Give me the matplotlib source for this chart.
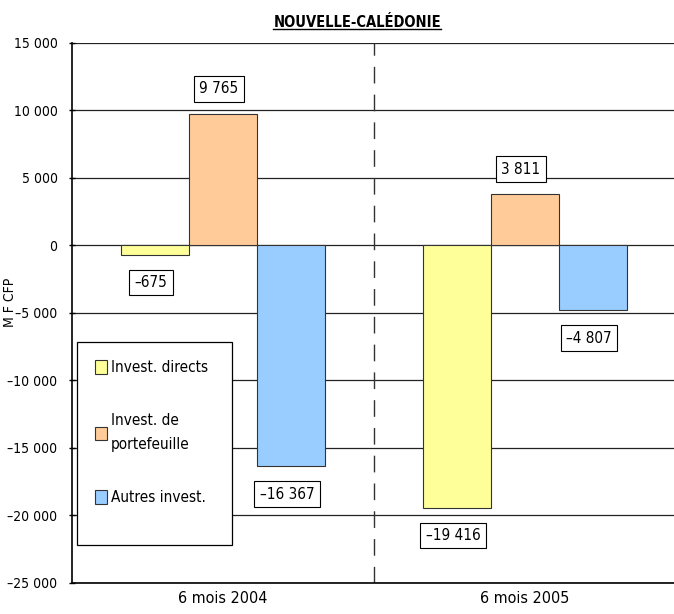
import numpy as np
import matplotlib.pyplot as plt
from matplotlib.lines import Line2D
from matplotlib.patches import Rectangle
from matplotlib.ticker import FuncFormatter

plt.rcParams['font.family'] = ['DejaVu Sans']
plt.rcParams['font.stretch'] = 'condensed'

periods = ['6 mois 2004', '6 mois 2005']
series = ['Invest. directs', 'Invest. de\nportefeuille', 'Autres invest.']
directs = [-675, -19416]
portefeuille = [9765, 3811]
autres = [-16367, -4807]
colors = ['#FFFF99', '#FFCC99', '#99CCFF']

fig = plt.figure(figsize=(6.74, 6.14), dpi=100)
ax = fig.add_axes([0.107, 0.0505, 0.896, 0.8795])

x = np.arange(len(periods))
w = 0.225
for i, (vals, c, lab) in enumerate(zip([directs, portefeuille, autres], colors, series)):
    pos = x + (i - 1) * w
    ax.bar(pos, vals, w, color=c, edgecolor='#333333', linewidth=0.8, label=lab, zorder=3)
    for px, v in zip(pos, vals):
        off = 18 if v > 0 else -20
        txt = f'{abs(v):,}'.replace(',', ' ')
        if v < 0:
            txt = '\u2013' + txt
        ax.annotate(txt, (px, v), xytext=(-3, off), textcoords='offset points',
                    ha='center', va='center', fontsize=11, zorder=5,
                    bbox=dict(boxstyle='square,pad=0.35', fc='white', ec='black', lw=0.8))

ax.set_xlim(-0.5, 1.5)
ax.set_ylim(-25000, 15000)
ax.set_yticks(np.arange(-25000, 15001, 5000))
ax.yaxis.set_major_formatter(FuncFormatter(
    lambda v, p: ('\u2013' if v < 0 else '') + f'{abs(int(v)):,}'.replace(',', ' ')))
ax.yaxis.grid(True, color='#222222', linewidth=0.9, zorder=0)
ax.set_xticks(x)
ax.set_xticklabels(periods, fontsize=11.5)
ax.tick_params(axis='x', length=0, pad=6)
ax.tick_params(axis='y', labelsize=10, length=5, width=1, direction='inout', pad=8)
for s in ['top', 'right']:
    ax.spines[s].set_visible(False)
ax.spines['left'].set_linewidth(1.2)
ax.spines['bottom'].set_linewidth(1.2)
ax.axvline(0.5, color='#333333', linewidth=1, linestyle=(0, (12, 8)), zorder=2)

ax.set_ylabel('M F CFP', fontsize=10)
ax.yaxis.set_label_coords(-0.091, 0.52)

# legend frame drawn separately so the box can be taller than the entries
ax.add_patch(Rectangle((0.0083, 0.0704), 0.2566, 0.376, transform=ax.transAxes,
                       fc='white', ec='black', lw=0.9, zorder=6))
leg = ax.legend(loc='upper left', bbox_to_anchor=(0.038, 0.413), fontsize=11,
                frameon=False, handlelength=0.75, handleheight=1.0, handletextpad=0.3,
                labelspacing=2.5, borderpad=0, borderaxespad=0)
for t in leg.get_texts():
    t.set_linespacing(1.75)
for h in leg.legend_handles:
    h.set_edgecolor('#333333')
leg.set_zorder(7)

title = fig.text(0.53, 0.963, 'NOUVELLE-CALÉDONIE', ha='center', va='center',
                 fontsize=10.5, fontweight='bold')
fig.canvas.draw()
bb = title.get_window_extent().transformed(fig.transFigure.inverted())
fig.add_artist(Line2D([bb.x0, bb.x1], [bb.y0 + 0.002, bb.y0 + 0.002], color='black', linewidth=1))

fig.savefig('out.png', dpi=100)
